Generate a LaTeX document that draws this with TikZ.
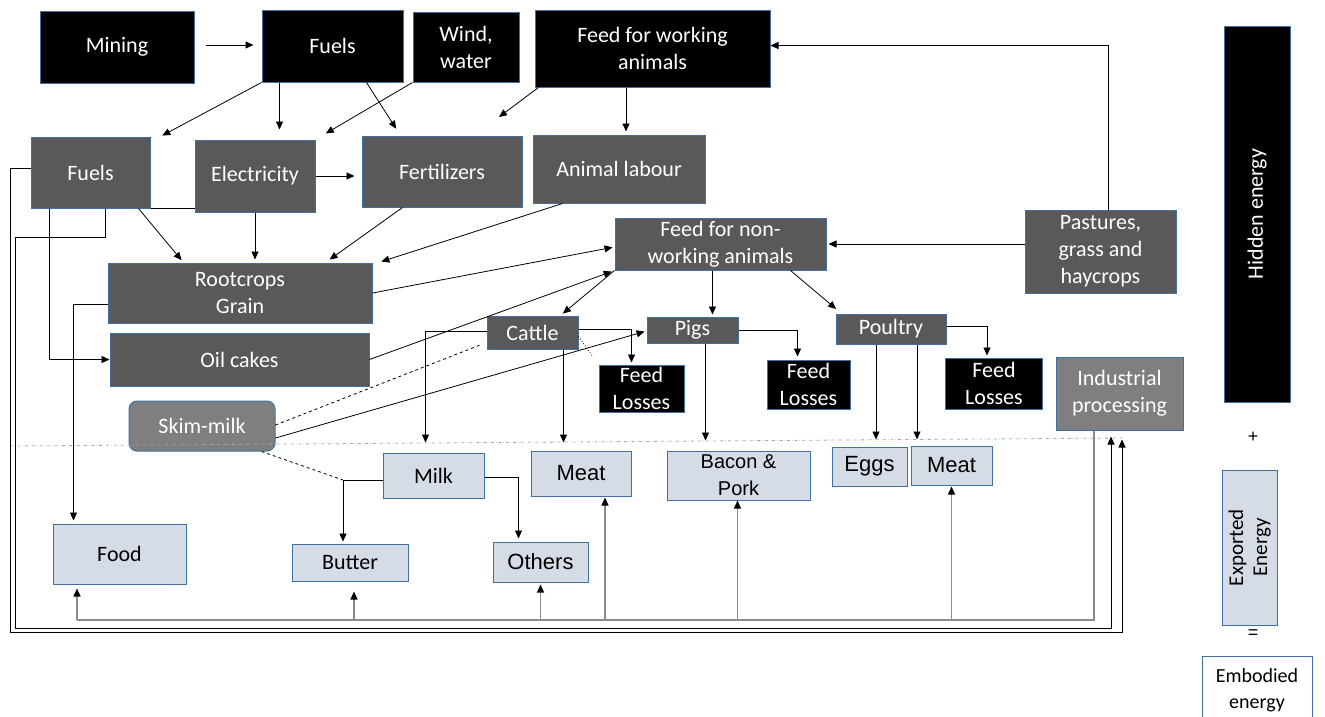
\documentclass[tikz,border=0pt]{standalone}
\usepackage{fontspec}
\setmainfont{Carlito}
\newfontfamily\arialfont{Liberation Sans}
\usetikzlibrary{arrows.meta}
\definecolor{edgeblue}{HTML}{41719C}
\definecolor{darkbox}{HTML}{595959}
\definecolor{midbox}{HTML}{7F7F7F}
\definecolor{litebox}{HTML}{D6DCE5}
\definecolor{busgray}{HTML}{8C8C8C}

\begin{document}
\begin{tikzpicture}[x=1pt, y=-1pt,
  every node/.style={font=\fontsize{22}{27}\selectfont, align=center, inner sep=0pt},
  blk/.style={draw=edgeblue, line width=1pt, fill=black, text=white},
  dark/.style={draw=edgeblue, line width=1pt, fill=darkbox, text=white},
  mid/.style={draw=edgeblue, line width=1pt, fill=midbox, text=white},
  lite/.style={draw=edgeblue, line width=1pt, fill=litebox, text=black},
  arl/.style={font=\arialfont\fontsize{22}{26}\selectfont},
  arr/.style={-{Triangle[length=8pt,width=7pt]}, line width=0.8pt},
  garr/.style={-{Triangle[length=8pt,width=7pt,color=black]}, draw=busgray, line width=1.2pt},
  ln/.style={line width=0.8pt}]
		\useasboundingbox (0,0) rectangle (1325,716);
		% boxes on top
		\node[blk, minimum width=154pt, minimum height=72pt] (mining) at (117,47) {Mining};
		\node[blk, minimum width=141pt, minimum height=72pt] (fuelsA) at (332.5,46) {Fuels};
		\node[blk, minimum width=106pt, minimum height=70pt] (wind) at (466,47) {Wind,\\water};
		\node[blk, minimum width=235pt, minimum height=77pt] (feedw) at (652.5,48.5) {Feed for working\\animals};
		% second row
		\node[dark, minimum width=119pt, minimum height=71pt] (fuelsB) at (90.5,172.5) {Fuels};
		\node[dark, minimum width=120pt, minimum height=72pt] (elec) at (255,176) {Electricity};
		\node[dark, minimum width=160pt, minimum height=71pt] (fert) at (442,171.5) {Fertilizers};
		\node[dark, minimum width=172pt, minimum height=68pt] (labour) at (619,169) {Animal labour};
		\node[dark, minimum width=151pt, minimum height=83pt] (pastures) at (1100.5,251.5) {Pastures,\\grass and\\haycrops};
		\node[dark, minimum width=211pt, minimum height=52pt] (feedn) at (720.5,244) {Feed for non-\\working animals};
		\node[dark, minimum width=264pt, minimum height=60pt] (root) at (240,293) {Rootcrops\\Grain};
		\node[dark, minimum width=259pt, minimum height=53pt] (oil) at (239.5,359.5) {Oil cakes};
		\node[mid, rounded corners=8pt, minimum width=146pt, minimum height=50pt] (skim) at (202,426) {Skim-milk};
		% animals
		\node[dark, minimum width=91pt, minimum height=33pt] (cattle) at (532.5,332.5) {Cattle};
		\node[dark, minimum width=91pt, minimum height=26pt] (pigs) at (692.5,330) {Pigs};
		\node[dark, minimum width=110pt, minimum height=30pt] (poultry) at (891,329) {Poultry};
		\node[blk, minimum width=85pt, minimum height=47pt] (loss1) at (641.5,388.5) {Feed\\Losses};
		\node[blk, minimum width=83pt, minimum height=49pt] (loss2) at (808.5,384.5) {Feed\\Losses};
		\node[blk, minimum width=97pt, minimum height=51pt] (loss3) at (994,383.5) {Feed\\Losses};
		\node[mid, minimum width=127pt, minimum height=73pt] (industrial) at (1119.5,393.5) {Industrial\\processing};
		% products
		\node[lite, minimum width=101pt, minimum height=45pt] (milk) at (433.5,475.5) {Milk};
		\node[lite, arl, minimum width=100pt, minimum height=45pt] (meat) at (581,473.5) {Meat};
		\node[lite, font=\arialfont\fontsize{20}{27}\selectfont, minimum width=143pt, minimum height=49pt] (bacon) at (738.5,475.5) {Bacon \&\\Pork};
		\node[lite, arl, minimum width=75pt, minimum height=39pt] (eggs) at (869.5,466.5) {Eggs};
		\node[lite, arl, minimum width=81pt, minimum height=39pt] (meatB) at (951.5,465.5) {Meat};
		\node[lite, minimum width=133pt, minimum height=60pt] (food) at (119.5,554) {Food};
		\node[lite, minimum width=116pt, minimum height=37pt] (butter) at (350,562.5) {Butter};
		\node[lite, arl, minimum width=95pt, minimum height=40pt] (others) at (540.5,562) {Others};
		% energy column
		\node[blk, minimum width=376pt, minimum height=66pt, rotate=90] (hidden) at (1257,214) {Hidden energy};
		\node[arl, font=\arialfont\fontsize{18}{20}\selectfont] (plus) at (1253,437) {+};
		\node[lite, minimum width=155pt, minimum height=55pt, rotate=90, font=\fontsize{21}{24}\selectfont] (exported) at (1249.5,547.5) {Exported\\Energy};
		\node[arl, font=\arialfont\fontsize{18}{20}\selectfont] (equals) at (1253,634) {=};
		\node[draw=edgeblue, line width=1pt, fill=white, minimum width=110pt, minimum height=68pt, font=\fontsize{20}{26}\selectfont] (embodied) at (1257,690) {Embodied\\energy};
		\coordinate (feedwend) at (499,117);
		\coordinate (mbend) at (343,480);
		\coordinate (outerc) at (10,632);
		\coordinate (innerc) at (15,237);
		\coordinate (innerd) at (15,628);
		\coordinate (bus) at (77,620);
		% dash-dot border line
		\draw[dashdotted, gray!70, line width=0.8pt] (10,446) -- (1122,438);
		% arrows, top part
		\draw[arr, shorten <=11pt, shorten >=8pt] ([yshift=2pt]mining.east) -- ([yshift=2pt]mining.east -| fuelsA.west);
		\draw[arr, shorten >=2pt] (fuelsA.south west) -- ([xshift=10pt]fuelsB.north east);
		\draw[arr, shorten >=10pt] ([xshift=18pt]fuelsA.south west) -- ([xshift=18pt]fuelsA.south west |- elec.north);
		\draw[arr, shorten >=8pt] ([xshift=-37pt]fuelsA.south east) -- ([xshift=39pt]fert.north west);
		\draw[arr, shorten >=12pt] (wind.south west) -- (elec.north east);
		\draw[arr] ([xshift=4pt]feedw.south west) -- (feedwend);
		\draw[arr, shorten >=3pt] ([xshift=7pt]labour.north |- feedw.south) -- ([xshift=7pt]labour.north);
		\draw[arr, shorten >=7pt] (elec.east) -- (elec.east -| fert.west);
		\draw[ln] (fuelsB.south east) -- (fuelsB.south east -| elec.west);
		% into rootcrops
		\draw[arr, shorten >=3pt] ([xshift=-12pt]fuelsB.south east) -- ([xshift=76pt]root.north west);
		\draw[arr, shorten >=3pt] (elec.south) -- (elec.south |- root.north);
		\draw[arr, shorten >=5pt] ([xshift=41pt]fert.south west) -- ([xshift=218pt]root.north west);
		\draw[arr, shorten >=3pt] ([xshift=30pt]labour.south west) -- ([xshift=6pt]root.north east);
		% feed for non-working animals
		\draw[arr, shorten >=2pt] (root.east) -- ([yshift=-3pt]feedn.west);
		\draw[arr, shorten >=3pt] (oil.east) -- (feedn.south west);
		\draw[arr, shorten >=3pt] (feedn.south west) -- ([xshift=28pt]cattle.north);
		\draw[arr, shorten >=2pt] ([xshift=-8pt]feedn.south) -- ([xshift=-8pt]feedn.south |- pigs.north);
		\draw[arr, shorten >=7pt] ([xshift=70pt]feedn.south) -- ([xshift=6pt]poultry.north west);
		\draw[arr, shorten >=2pt] (pastures.west |- feedn.east) -- (feedn.east);
		\draw[arr] ([xshift=8pt]pastures.north) |- ([yshift=3pt]feedw.east);
		% feed losses
		\draw[arr, shorten >=2pt] ([yshift=3pt]cattle.east) -| ([xshift=-10pt]loss1.north);
		\draw[dotted, ln, shorten >=10pt] ([yshift=-4pt]cattle.east) -- (loss1.north west);
		\draw[arr, shorten >=3pt] (pigs.east) -| ([xshift=-11pt]loss2.north);
		\draw[arr, shorten >=2pt] ([yshift=3pt]poultry.east) -| ([xshift=-7pt]loss3.north);
		% skim-milk
		\draw[dashed, ln, shorten >=5pt] ([yshift=1pt]skim.east) -- ([yshift=-10pt]cattle.west);
		\draw[arr, shorten >=2pt] ([yshift=-12pt]skim.east) -- ([yshift=-1pt]pigs.west);
		\draw[dashed, ln] ([xshift=-14pt]skim.south east) -- (mbend);
		% products
		\draw[arr, shorten >=10pt] ([yshift=1.5pt]cattle.west) -| ([xshift=-8pt]milk.north);
		\draw[arr, shorten >=8pt] ([xshift=31pt]cattle.south) -- ([xshift=31pt]cattle.south |- meat.north);
		\draw[arr, shorten >=10pt] ([xshift=13pt]pigs.south) -- ([xshift=13pt]pigs.south |- bacon.north);
		\draw[arr, shorten >=7pt] ([xshift=-15pt]poultry.south) -- ([xshift=-15pt]poultry.south |- eggs.north);
		\draw[arr, shorten >=6pt] ([xshift=26pt]poultry.south) -- ([xshift=26pt]poultry.south |- meatB.north);
		\draw[arr, shorten >=2pt] (mbend -| milk.west) -- (mbend) -- (mbend |- butter.north);
		\draw[arr, shorten >=3pt] ([yshift=-1.5pt]milk.east) -| ([xshift=-22pt]others.north);
		\draw[arr, shorten >=3pt] ([yshift=-11pt]root.west) -| ([xshift=-46pt]food.north);
		\draw[arr] ([xshift=-41pt]fuelsB.south) |- (oil.west);
		% lines round the picture
		\draw[arr, shorten >=9pt] ([yshift=4pt]fuelsB.west) -| (outerc) -| ([xshift=2.5pt]industrial.south);
		\draw[arr, shorten >=6pt] ([xshift=15pt]fuelsB.south) |- (innerc) -- (innerd) -| ([xshift=-8.5pt]industrial.south);
		\draw[busgray, line width=1.2pt] ([xshift=-25.5pt]industrial.south) |- (bus);
		\draw[garr, shorten >=4pt] (bus) -- (bus |- food.south);
		\draw[garr, shorten >=10pt] ([xshift=4pt]butter.south |- bus) -- ([xshift=4pt]butter.south);
		\draw[garr, shorten >=2pt] (others.south |- bus) -- (others.south);
		\draw[garr, shorten >=1pt] ([xshift=24pt]meat.south |- bus) -- ([xshift=24pt]meat.south);
		\draw[garr] ([xshift=-1pt]bacon.south |- bus) -- ([xshift=-1pt]bacon.south);
		\draw[garr, shorten >=1pt] (meatB.south |- bus) -- (meatB.south);
\end{tikzpicture}
\end{document}
